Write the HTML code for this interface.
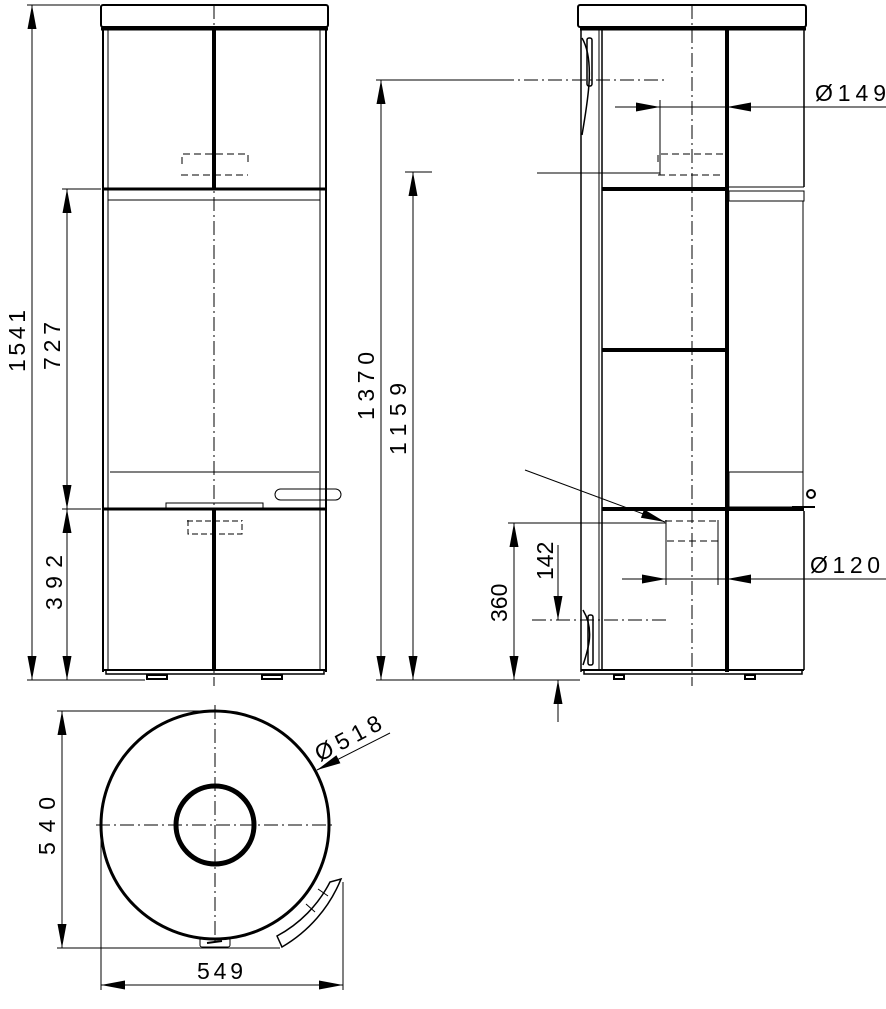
<!DOCTYPE html>
<html><head><meta charset="utf-8"><style>
html,body{margin:0;padding:0;background:#fff}
svg{display:block}
text{font-family:"Liberation Sans",sans-serif;font-size:23px;fill:#000}
</style></head><body>
<svg width="886" height="1009" viewBox="0 0 886 1009" xmlns="http://www.w3.org/2000/svg">
<g fill="none" stroke="#000" stroke-width="1">
<rect x="101" y="5" width="227" height="22" rx="2" stroke-width="2"/>
<line x1="101" y1="29" x2="328" y2="29" stroke-width="3"/>
<line x1="103" y1="29" x2="103" y2="672" stroke-width="2"/>
<line x1="326" y1="29" x2="326" y2="672" stroke-width="2"/>
<line x1="108" y1="29" x2="108" y2="670"/>
<line x1="320" y1="29" x2="320" y2="670"/>
<line x1="214" y1="29" x2="214" y2="189" stroke-width="4"/>
<line x1="103" y1="189" x2="326" y2="189" stroke-width="3"/>
<line x1="108" y1="200" x2="320" y2="200"/>
<line x1="110" y1="472" x2="319" y2="472"/>
<path d="M182,164 v-10 h66 v10 M181,175 h67" stroke-dasharray="7,4"/>
<rect x="275" y="489" width="66" height="11" rx="5.5"/>
<rect x="166" y="503" width="97" height="6"/>
<line x1="103" y1="509" x2="326" y2="509" stroke-width="3"/>
<path d="M188,520 v14 h54 v-14 M187,521 h55" stroke-dasharray="6,3"/>
<line x1="214" y1="509" x2="214" y2="670" stroke-width="4"/>
<line x1="103" y1="670" x2="326" y2="670" stroke-width="2"/>
<path d="M106,670 v4 h218 v-4" stroke-width="1.5"/>
<rect x="147" y="675" width="20" height="4" stroke-width="2"/>
<rect x="262" y="675" width="20" height="4" stroke-width="2"/>
<line x1="214" y1="5" x2="214" y2="686" stroke-dasharray="14,4,2,4"/>
<line x1="27" y1="5" x2="100" y2="5"/>
<line x1="27" y1="680" x2="145" y2="680"/>
<line x1="62" y1="189" x2="101" y2="189"/>
<line x1="62" y1="509" x2="101" y2="509"/>
<line x1="32" y1="5" x2="32" y2="680"/>
<line x1="67" y1="189" x2="67" y2="680"/>

<rect x="578" y="5" width="228" height="22" rx="2" stroke-width="2"/>
<line x1="580" y1="29" x2="806" y2="29" stroke-width="3"/>
<line x1="581" y1="29" x2="581" y2="672" stroke-width="1.5"/>
<line x1="599" y1="29" x2="599" y2="670"/>
<line x1="602" y1="29" x2="602" y2="670" stroke-width="1.5"/>
<path d="M582,38 C595,60 588,100 582,135" stroke-width="1.5"/>
<rect x="587" y="38" width="5" height="48" rx="2" stroke-width="1.5"/>
<path d="M583,610 C595,630 588,650 583,665" stroke-width="1.5"/>
<rect x="588" y="615" width="5" height="50" rx="2" stroke-width="1.5"/>
<line x1="727" y1="29" x2="727" y2="672" stroke-width="4"/>
<line x1="804" y1="29" x2="804" y2="187" stroke-width="1.5"/>
<line x1="729" y1="187" x2="804" y2="187"/>
<rect x="729" y="191" width="75" height="10"/>
<line x1="803" y1="201" x2="803" y2="472"/>
<rect x="729" y="472" width="74" height="35"/>
<circle cx="811" cy="494" r="4" stroke-width="2"/>
<line x1="792" y1="507" x2="815" y2="507" stroke-width="2"/>
<line x1="602" y1="189" x2="726" y2="189" stroke-width="4"/>
<line x1="602" y1="350" x2="726" y2="350" stroke-width="4"/>
<line x1="602" y1="509" x2="804" y2="509" stroke-width="4"/>
<line x1="804" y1="511" x2="804" y2="670" stroke-width="1.5"/>
<line x1="581" y1="670" x2="804" y2="670" stroke-width="2"/>
<path d="M584,670 v4 h218 v-4" stroke-width="1.5"/>
<rect x="614" y="675" width="10" height="4" stroke-width="2"/>
<rect x="745" y="675" width="10" height="4" stroke-width="2"/>
<path d="M658,162 v-8 h66 M658,175 h66" stroke-dasharray="7,4"/>
<path d="M666,520 v21 h52 v-21 M665,521 h54" stroke-dasharray="7,4"/>
<line x1="692" y1="5" x2="692" y2="686" stroke-dasharray="14,4,2,4"/>
<line x1="376" y1="80" x2="500" y2="80"/>
<line x1="500" y1="80" x2="666" y2="80" stroke-dasharray="14,4,2,4"/>
<line x1="405" y1="172" x2="432" y2="172"/>
<line x1="537" y1="173" x2="660" y2="173"/>
<line x1="376" y1="680" x2="580" y2="680"/>
<line x1="508" y1="523" x2="666" y2="523"/>
<line x1="532" y1="620" x2="666" y2="620" stroke-dasharray="14,4,2,4"/>
<line x1="381" y1="80" x2="381" y2="680"/>
<line x1="413" y1="172" x2="413" y2="680"/>
<line x1="514" y1="523" x2="514" y2="680"/>
<line x1="558" y1="545" x2="558" y2="620"/>
<line x1="558" y1="680" x2="558" y2="722"/>
<line x1="660" y1="100" x2="660" y2="175"/>
<line x1="615" y1="107" x2="886" y2="107"/>
<line x1="666" y1="523" x2="666" y2="585"/>
<line x1="718" y1="523" x2="718" y2="585"/>
<line x1="622" y1="579" x2="886" y2="579"/>
<line x1="525" y1="470" x2="665" y2="522"/>

<circle cx="215" cy="825" r="114" stroke-width="3"/>
<circle cx="215" cy="825" r="39" stroke-width="5"/>
<line x1="96" y1="825" x2="335" y2="825" stroke-dasharray="14,4,2,4"/>
<line x1="215" y1="705" x2="215" y2="945" stroke-dasharray="14,4,2,4"/>
<rect x="200" y="938" width="30" height="9" rx="2"/>
<line x1="207" y1="943" x2="222" y2="941" stroke-width="2"/>
<path d="M330,882 A127,127 0 0 1 277,936 L282,947 A139,139 0 0 0 341,879 Z" stroke-width="1.5"/>
<line x1="318" y1="889" x2="328" y2="896"/>
<line x1="306" y1="904" x2="315" y2="912"/>
<line x1="57" y1="711" x2="215" y2="711"/>
<line x1="57" y1="948" x2="280" y2="948"/>
<line x1="101" y1="825" x2="101" y2="990"/>
<line x1="343" y1="882" x2="343" y2="990"/>
<line x1="62" y1="711" x2="62" y2="948"/>
<line x1="101" y1="985" x2="343" y2="985"/>
<line x1="390" y1="733" x2="317" y2="770"/>
</g>
<g fill="#000" stroke="none">
<polygon points="32,5 27.5,29 36.5,29"/>
<polygon points="32,680 27.5,656 36.5,656"/>
<polygon points="67,189 62.5,213 71.5,213"/>
<polygon points="67,509 62.5,485 71.5,485"/>
<polygon points="67,509 62.5,533 71.5,533"/>
<polygon points="67,680 62.5,656 71.5,656"/>
<polygon points="381,80 376.5,104 385.5,104"/>
<polygon points="381,680 376.5,656 385.5,656"/>
<polygon points="413,172 408.5,196 417.5,196"/>
<polygon points="413,680 408.5,656 417.5,656"/>
<polygon points="514,523 509.5,547 518.5,547"/>
<polygon points="514,680 509.5,656 518.5,656"/>
<polygon points="558,620 553.5,596 562.5,596"/>
<polygon points="558,680 553.5,704 562.5,704"/>
<polygon points="660,107 636,102.5 636,111.5"/>
<polygon points="727,107 751,102.5 751,111.5"/>
<polygon points="666,579 642,574.5 642,583.5"/>
<polygon points="727,579 751,574.5 751,583.5"/>
<polygon points="665,522 640.9,517.8 644.1,509.4"/>
<polygon points="62,711 57.5,735 66.5,735"/>
<polygon points="62,948 57.5,924 66.5,924"/>
<polygon points="101,985 125,980.5 125,989.5"/>
<polygon points="343,985 319,980.5 319,989.5"/>
<polygon points="317,770 340.4,763.2 336.4,755.2"/>
</g>
<text transform="translate(25,372) rotate(-90)" textLength="62" lengthAdjust="spacing">1541</text>
<text transform="translate(60,370) rotate(-90)" textLength="48" lengthAdjust="spacing">727</text>
<text transform="translate(62,610) rotate(-90)" textLength="55" lengthAdjust="spacing">392</text>
<text transform="translate(374,420) rotate(-90)" textLength="68" lengthAdjust="spacing">1370</text>
<text transform="translate(406,455) rotate(-90)" textLength="72" lengthAdjust="spacing">1159</text>
<text transform="translate(507,622) rotate(-90)">360</text>
<text transform="translate(553,580) rotate(-90)">142</text>
<text x="815" y="101" textLength="71" lengthAdjust="spacing">Ø149</text>
<text x="810" y="573" textLength="70" lengthAdjust="spacing">Ø120</text>
<text transform="translate(55,855) rotate(-90)" textLength="58" lengthAdjust="spacing">540</text>
<text x="197" y="979" textLength="46" lengthAdjust="spacing">549</text>
<text transform="translate(320,762) rotate(-28)" textLength="72" lengthAdjust="spacing">Ø518</text>
</svg>
</body></html>
